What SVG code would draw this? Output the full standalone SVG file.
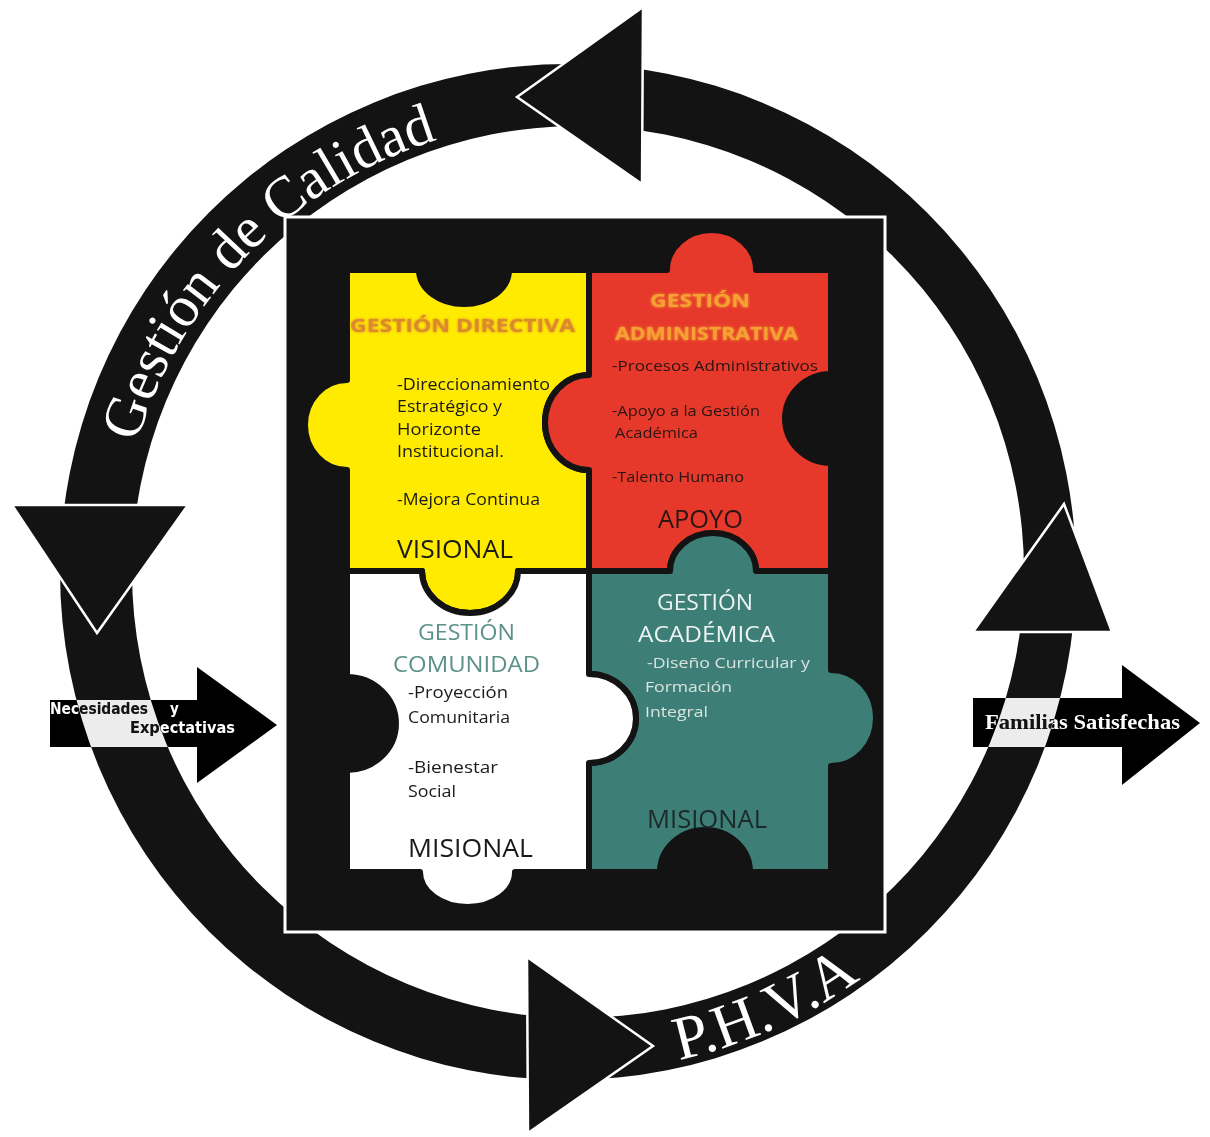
<svg xmlns="http://www.w3.org/2000/svg" width="1210" height="1137" viewBox="0 0 1210 1137">
<style>
.blk{fill:#131313}
.tri{fill:#131313;stroke:#ffffff;stroke-width:2.5;stroke-linejoin:miter}
.piece{stroke:#131313;stroke-width:6;stroke-linejoin:round}
.sans{font-family:"Open Sans","Noto Sans","DejaVu Sans",sans-serif}
.serif{font-family:"Liberation Serif","Times New Roman",serif;fill:#ffffff}
.inv{mix-blend-mode:difference}
</style>
<defs>
<filter id="glow" x="-10%" y="-30%" width="120%" height="160%">
<feGaussianBlur in="SourceGraphic" stdDeviation="1.4" result="b"/>
<feMerge><feMergeNode in="b"/><feMergeNode in="SourceGraphic"/></feMerge>
</filter>
<path id="arcTop" d="M 124.9 493.5 A 452 452 0 0 1 648.5 126.9"/>
<path id="arcBottom" d="M 483.2 1064.4 A 500 500 0 0 0 1003 822"/>
</defs>
<rect x="0" y="0" width="1210" height="1137" fill="#ffffff"/>

<g id="connectors">
<path class="blk" fill-rule="evenodd" d="M 60 572 A 508 508 0 1 0 1076 572 A 508 508 0 1 0 60 572 Z M 132 572 A 446 446 0 1 0 1024 572 A 446 446 0 1 0 132 572 Z"/>
<polygon id="head-top" class="tri" points="517,97 643,7 642,184"/>
<polygon id="head-left" class="tri" points="12,505 188,505 97,633"/>
<polygon id="head-right" class="tri" points="1064,504 1112,632 973,632"/>
<polygon id="head-bottom" class="tri" points="527,957 653,1046 528,1133"/>
<text class="serif" font-size="58"><textPath href="#arcTop" startOffset="52">Gestión</textPath></text>
<text class="serif" font-size="58"><textPath href="#arcTop" startOffset="247">de</textPath></text>
<text class="serif" font-size="58"><textPath href="#arcTop" startOffset="316">Calidad</textPath></text>
<text class="serif" font-size="62"><textPath href="#arcBottom" startOffset="197">P.H.V.A</textPath></text>
</g>

<g id="frame">
<rect x="285" y="217" width="600" height="715" class="blk" stroke="#ffffff" stroke-width="3"/>
</g>

<g id="gestion-directiva">
<path class="piece" fill="#ffeb00" d="M 347 270 L 419 270 A 45 34 0 0 0 509 270 L 589 270 L 589 375 A 44 47.5 0 0 0 589 470 L 589 571 L 518 571 A 48 42 0 0 1 422 571 L 347 571 L 347 470 A 42 45 0 0 1 347 380 Z"/>
<text class="sans" x="350" y="332" font-size="17" font-weight="700" fill="#dc892e" filter="url(#glow)" textLength="225" lengthAdjust="spacingAndGlyphs">GESTIÓN DIRECTIVA</text>
<g class="sans" fill="#1a1a1a" font-size="16">
<text x="397" y="390" textLength="153" lengthAdjust="spacingAndGlyphs">-Direccionamiento</text>
<text x="397" y="412" textLength="105" lengthAdjust="spacingAndGlyphs">Estratégico y</text>
<text x="397" y="435" textLength="84" lengthAdjust="spacingAndGlyphs">Horizonte</text>
<text x="397" y="457" textLength="107" lengthAdjust="spacingAndGlyphs">Institucional.</text>
<text x="397" y="505" textLength="143" lengthAdjust="spacingAndGlyphs">-Mejora Continua</text>
<text x="397" y="558" font-size="26" textLength="116" lengthAdjust="spacingAndGlyphs">VISIONAL</text>
</g>
</g>

<g id="gestion-administrativa">
<path class="piece" fill="#e6392b" d="M 589 270 L 667 270 A 44.5 40 0 0 1 756 270 L 831 270 L 831 374 A 46 44.5 0 0 0 831 463 L 831 571 L 756 571 A 43 38 0 0 0 670 571 L 589 571 L 589 470 A 44 47.5 0 0 1 589 375 Z"/>
<g class="sans" font-size="18" font-weight="700" fill="#f5a232" filter="url(#glow)">
<text x="650" y="307" textLength="100" lengthAdjust="spacingAndGlyphs">GESTIÓN</text>
<text x="615" y="340" textLength="183" lengthAdjust="spacingAndGlyphs">ADMINISTRATIVA</text>
</g>
<g class="sans" fill="#2a1512" font-size="15">
<text x="612" y="371" textLength="206" lengthAdjust="spacingAndGlyphs">-Procesos Administrativos</text>
<text x="612" y="416" textLength="148" lengthAdjust="spacingAndGlyphs">-Apoyo a la Gestión</text>
<text x="615" y="438" textLength="83" lengthAdjust="spacingAndGlyphs">Académica</text>
<text x="612" y="482" textLength="132" lengthAdjust="spacingAndGlyphs">-Talento Humano</text>
<text x="658" y="528" font-size="26" textLength="85" lengthAdjust="spacingAndGlyphs">APOYO</text>
</g>
</g>

<g id="gestion-academica">
<path class="piece" fill="#3d7f77" d="M 589 571 L 670 571 A 43 38 0 0 1 756 571 L 831 571 L 831 670 A 45 48 0 0 1 831 766 L 831 872 L 750 872 A 45 42 0 0 0 660 872 L 589 872 L 589 763 A 47 44.5 0 0 0 589 674 Z"/>
<g class="sans" font-size="22" fill="#eef4f1">
<text x="657" y="610" textLength="96" lengthAdjust="spacingAndGlyphs">GESTIÓN</text>
<text x="638" y="642" textLength="137" lengthAdjust="spacingAndGlyphs">ACADÉMICA</text>
</g>
<g class="sans" font-size="15" fill="#dbe3e0">
<text x="647" y="668" textLength="163" lengthAdjust="spacingAndGlyphs">-Diseño Curricular y</text>
<text x="645" y="692" textLength="87" lengthAdjust="spacingAndGlyphs">Formación</text>
<text x="645" y="717" textLength="63" lengthAdjust="spacingAndGlyphs">Integral</text>
</g>
<text class="sans" x="647" y="828" font-size="26" fill="#1b2a28" textLength="120" lengthAdjust="spacingAndGlyphs">MISIONAL</text>
</g>

<g id="gestion-comunidad">
<path class="piece" fill="#ffffff" d="M 347 571 L 422 571 A 48 42 0 0 0 518 571 L 589 571 L 589 674 A 47 44.5 0 0 1 589 763 L 589 872 L 515 872 A 47.5 35 0 0 1 420 872 L 347 872 L 347 770 A 49 46.5 0 0 0 347 677 Z"/>
<g class="sans" font-size="22" fill="#5a9287">
<text x="418" y="640" textLength="97" lengthAdjust="spacingAndGlyphs">GESTIÓN</text>
<text x="393" y="672" textLength="147" lengthAdjust="spacingAndGlyphs">COMUNIDAD</text>
</g>
<g class="sans" font-size="16" fill="#1a1a1a">
<text x="408" y="698" textLength="100" lengthAdjust="spacingAndGlyphs">-Proyección</text>
<text x="408" y="723" textLength="102" lengthAdjust="spacingAndGlyphs">Comunitaria</text>
<text x="408" y="773" textLength="90" lengthAdjust="spacingAndGlyphs">-Bienestar</text>
<text x="408" y="797" textLength="48" lengthAdjust="spacingAndGlyphs">Social</text>
<text x="408" y="857" font-size="26" textLength="125" lengthAdjust="spacingAndGlyphs">MISIONAL</text>
</g>
</g>

<g id="entrada-necesidades">
<polygon class="inv" fill="#ffffff" points="50,700 197,700 197,667 277,725 197,783 197,747 50,747"/>
<g class="inv" fill="#ffffff" font-family="'DejaVu Sans Condensed','DejaVu Sans',sans-serif" font-weight="700" font-size="15">
<text x="50" y="714" textLength="98" lengthAdjust="spacingAndGlyphs">Necesidades</text>
<text x="170" y="714">y</text>
<text x="130" y="733" textLength="105" lengthAdjust="spacingAndGlyphs">Expectativas</text>
</g>
</g>

<g id="salida-familias">
<polygon class="inv" fill="#ffffff" points="973,698 1122,698 1122,665 1200,723 1122,785 1122,747 973,747"/>
<text class="inv" x="985" y="729" fill="#ffffff" font-family="'Liberation Serif','Times New Roman',serif" font-weight="700" font-size="21" textLength="195" lengthAdjust="spacingAndGlyphs">Familias Satisfechas</text>
</g>
</svg>
